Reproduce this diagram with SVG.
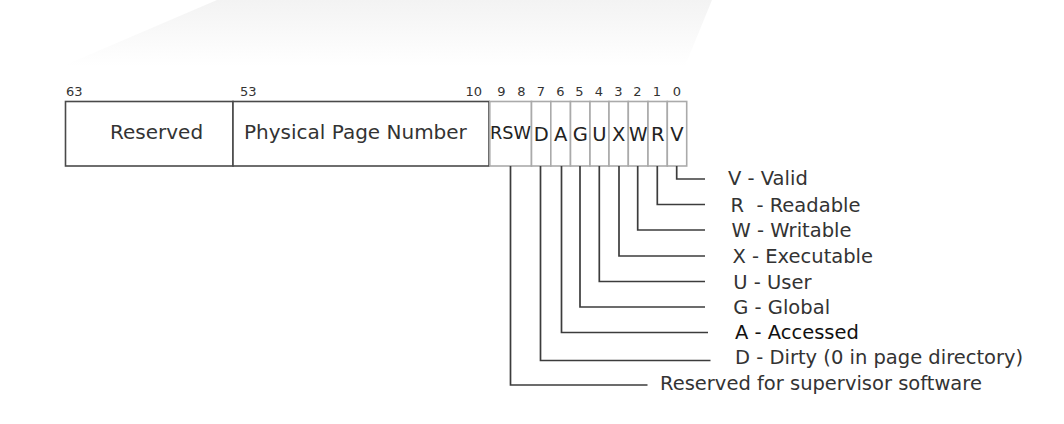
<svg xmlns="http://www.w3.org/2000/svg" width="1064" height="424" viewBox="0 0 1064 424">
  <defs>
    <linearGradient id="bg" x1="0" y1="0" x2="0" y2="1">
      <stop offset="0" stop-color="#f3f3f3"/>
      <stop offset="1" stop-color="#ffffff"/>
    </linearGradient>
    <style>
      text { font-family: "DejaVu Sans", sans-serif; fill: #333; }
      .bit { font-size: 13px; }
      .big { font-size: 20px; }
      .flag { font-size: 19.5px; text-anchor: middle; fill: #222; }
      .lbl { font-size: 19.5px; white-space: pre; }
      .main { fill: #fff; stroke: #4a4a4a; stroke-width: 1.6; }
      .cell { fill: #fff; stroke: #aaa; stroke-width: 1.6; }
      .conn path { fill: none; stroke: #3c3c3c; stroke-width: 1.7; }
    </style>
  </defs>
  <rect width="1064" height="424" fill="#fff"/>
  <polygon points="217,0 712,0 685,66 63,66" fill="url(#bg)"/>

  <g id="bit-numbers">
    <text class="bit" x="66" y="96">63</text>
    <text class="bit" x="240" y="96">53</text>
    <text class="bit" x="482" y="96" text-anchor="end">10</text>
    <text class="bit" x="501.5" y="96" text-anchor="middle">9</text>
    <text class="bit" x="521.5" y="96" text-anchor="middle">8</text>
    <text class="bit" x="541" y="96" text-anchor="middle">7</text>
    <text class="bit" x="560.5" y="96" text-anchor="middle">6</text>
    <text class="bit" x="579.5" y="96" text-anchor="middle">5</text>
    <text class="bit" x="599" y="96" text-anchor="middle">4</text>
    <text class="bit" x="618.5" y="96" text-anchor="middle">3</text>
    <text class="bit" x="637.5" y="96" text-anchor="middle">2</text>
    <text class="bit" x="657" y="96" text-anchor="middle">1</text>
    <text class="bit" x="677" y="96" text-anchor="middle">0</text>
  </g>

  <g id="field-reserved">
    <rect class="main" x="65.5" y="101.5" width="167.5" height="64.5"/>
    <text class="big" x="110" y="139">Reserved</text>
  </g>
  <g id="field-ppn">
    <rect class="main" x="233" y="101.5" width="256" height="64.5"/>
    <text class="big" x="244" y="139">Physical Page Number</text>
  </g>
  <g id="field-rsw">
    <rect class="cell" x="489.8" y="101.5" width="41.7" height="64.5"/>
    <text x="510.5" y="138.5" style="font-size:18px;text-anchor:middle;fill:#222" textLength="41" lengthAdjust="spacingAndGlyphs">RSW</text>
  </g>
  <g id="field-d">
    <rect class="cell" x="531.5" y="101.5" width="19.3" height="64.5"/>
    <text class="flag" x="541.2" y="140.5">D</text>
  </g>
  <g id="field-a">
    <rect class="cell" x="550.8" y="101.5" width="19.7" height="64.5"/>
    <text class="flag" x="560.7" y="140.5">A</text>
  </g>
  <g id="field-g">
    <rect class="cell" x="570.5" y="101.5" width="19.5" height="64.5"/>
    <text class="flag" x="580.3" y="140.5">G</text>
  </g>
  <g id="field-u">
    <rect class="cell" x="590" y="101.5" width="19" height="64.5"/>
    <text class="flag" x="599.5" y="140.5">U</text>
  </g>
  <g id="field-x">
    <rect class="cell" x="609" y="101.5" width="19.3" height="64.5"/>
    <text class="flag" x="618.7" y="140.5">X</text>
  </g>
  <g id="field-w">
    <rect class="cell" x="628.3" y="101.5" width="19.7" height="64.5"/>
    <text class="flag" x="638.2" y="140.5" textLength="18.5" lengthAdjust="spacingAndGlyphs">W</text>
  </g>
  <g id="field-r">
    <rect class="cell" x="648" y="101.5" width="19.3" height="64.5"/>
    <text class="flag" x="657.7" y="140.5">R</text>
  </g>
  <g id="field-v">
    <rect class="cell" x="667.3" y="101.5" width="19.4" height="64.5"/>
    <text class="flag" x="677" y="140.5">V</text>
  </g>

  <g class="conn" id="connectors">
    <path d="M676.7,166 V179 H705"/>
    <path d="M657.3,166 V204.5 H705"/>
    <path d="M637.7,166 V230 H705"/>
    <path d="M619,166 V256 H705"/>
    <path d="M599.3,166 V281.5 H705"/>
    <path d="M580,166 V307 H705"/>
    <path d="M561.5,166 V332.5 H708"/>
    <path d="M540.5,166 V360.5 H710.5"/>
    <path d="M510.5,166 V385 H647.5"/>
  </g>

  <g id="labels">
    <text class="lbl" x="728" y="185">V - Valid</text>
    <text class="lbl" x="730.5" y="211.5" xml:space="preserve">R  - Readable</text>
    <text class="lbl" x="731.5" y="237">W - Writable</text>
    <text class="lbl" x="732.5" y="263">X - Executable</text>
    <text class="lbl" x="733.3" y="289">U - User</text>
    <text class="lbl" x="733.3" y="313.5">G - Global</text>
    <text class="lbl" x="735" y="339" style="fill:#111">A - Accessed</text>
    <text class="lbl" x="735" y="364">D - Dirty (0 in page directory)</text>
    <text class="lbl" x="660" y="390">Reserved for supervisor software</text>
  </g>
</svg>
